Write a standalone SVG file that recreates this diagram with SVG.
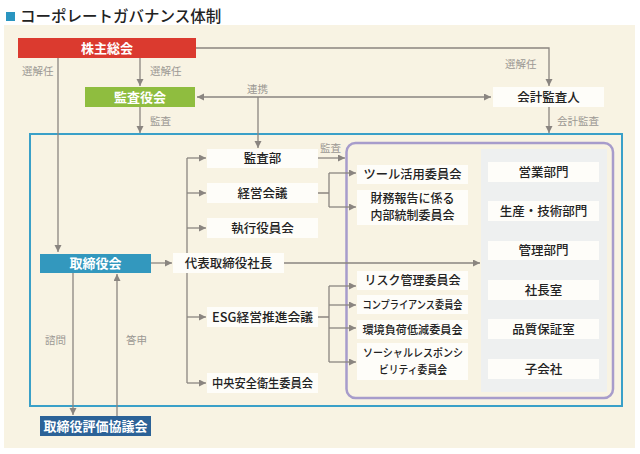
<svg xmlns="http://www.w3.org/2000/svg" width="640" height="454" viewBox="0 0 640 454">
<defs>
<marker id="ah" markerUnits="userSpaceOnUse" markerWidth="8" markerHeight="8" refX="7" refY="3.5" orient="auto-start-reverse"><path d="M0,0 L7,3.5 L0,7 z" fill="#8a8580"/></marker>
</defs>
<style>
text{font-family:"Noto Sans CJK JP","Noto Sans",sans-serif;}
.n{fill:#fefdf9;}
.t{font-size:12.5px;fill:#222;font-weight:500;text-anchor:middle;}
.tw{font-size:13px;fill:#fff;font-weight:700;text-anchor:middle;}
.lb{font-size:10.5px;fill:#9b9893;}
.c{fill:none;stroke:#8a8580;stroke-width:1.3;}
.a{marker-end:url(#ah);}
</style>
<rect x="0" y="0" width="640" height="454" fill="#ffffff"/>
<rect x="6" y="12" width="9" height="9" fill="#2a95c0"/>
<text x="20" y="22" style="font-size:15.5px;fill:#222;font-weight:500">コーポレートガバナンス体制</text>
<rect x="4" y="25" width="631" height="423" fill="#f8f3e3"/>
<rect x="30" y="134" width="592" height="272" fill="none" stroke="#3aa0c8" stroke-width="2"/>
<rect x="346.5" y="143" width="266.5" height="255" rx="9" fill="none" stroke="#a79ccb" stroke-width="2.5"/>
<rect x="481" y="149" width="126" height="243" fill="#eef0f0"/>

<g id="connectors">
<path class="c a" d="M196,48 H549 V86"/>
<path class="c a" d="M58,58 V252"/>
<path class="c a" d="M140,58 V86"/>
<path class="c a" d="M140,107 V133"/>
<path class="c a" d="M491,97 H197" style="marker-start:url(#ah)"/>
<path class="c a" d="M258,97 V148"/>
<path class="c a" d="M549,107 V133"/>
<path class="c a" d="M151,263 H172"/>
<path class="c" d="M187,158 V383"/>
<path class="c a" d="M187,158 H206"/>
<path class="c a" d="M187,193 H206"/>
<path class="c a" d="M187,228 H206"/>
<path class="c a" d="M187,317 H206"/>
<path class="c a" d="M187,383 H206"/>
<path class="c a" d="M318,158 H345"/>
<path class="c" d="M318,193 H329 M329,173 V207"/>
<path class="c a" d="M329,173 H356"/>
<path class="c a" d="M329,207 H356"/>
<path class="c a" d="M284,263 H480"/>
<path class="c" d="M318,317 H329 M329,286 V362"/>
<path class="c a" d="M329,286 H356"/>
<path class="c a" d="M329,305 H356"/>
<path class="c a" d="M329,328 H356"/>
<path class="c a" d="M329,362 H356"/>
<path class="c a" d="M73,273 V415"/>
<path class="c a" d="M117,416 V274"/>
<text class="lb" x="22" y="75">選解任</text>
<text class="lb" x="150" y="75">選解任</text>
<text class="lb" x="505" y="68">選解任</text>
<text class="lb" x="247" y="93">連携</text>
<text class="lb" x="150" y="125">監査</text>
<text class="lb" x="557" y="125">会計監査</text>
<text class="lb" x="320" y="152">監査</text>
<text class="lb" x="45" y="344">諮問</text>
<text class="lb" x="126" y="344">答申</text>
</g>

<g id="kabunushi"><rect x="18" y="38" width="178" height="20" fill="#db3a2f"/><text class="tw" x="107" y="52.5">株主総会</text></g>
<g id="kansayaku"><rect x="85" y="87" width="110" height="20" fill="#8fbd3f"/><text class="tw" x="140" y="101.5">監査役会</text></g>
<g id="kaikei"><rect x="493" y="87" width="111" height="20" class="n"/><text class="t" x="548.5" y="101.5">会計監査人</text></g>
<g id="torishimariyaku"><rect x="40" y="254" width="111" height="19" fill="#3398be"/><text class="tw" x="95.5" y="268">取締役会</text></g>
<g id="hyoka"><rect x="40" y="416" width="111" height="20" fill="#2c6297"/><text class="tw" x="95.5" y="430.5">取締役評価協議会</text></g>
<g id="shacho"><rect x="173" y="253" width="111" height="20" class="n"/><text class="t" x="228.5" y="267.5">代表取締役社長</text></g>
<g id="kansabu"><rect x="207" y="149" width="111" height="19" class="n"/><text class="t" x="262.5" y="163">監査部</text></g>
<g id="keiei"><rect x="207" y="183" width="111" height="20" class="n"/><text class="t" x="262.5" y="197.5">経営会議</text></g>
<g id="shikko"><rect x="207" y="218" width="111" height="20" class="n"/><text class="t" x="262.5" y="232.5">執行役員会</text></g>
<g id="esg"><rect x="207" y="307" width="111" height="20" class="n"/><text class="t" x="262.5" y="321.5" textLength="101" lengthAdjust="spacingAndGlyphs">ESG経営推進会議</text></g>
<g id="chuo"><rect x="207" y="373" width="111" height="20" class="n"/><text class="t" x="262.5" y="387.5" textLength="101" lengthAdjust="spacingAndGlyphs">中央安全衛生委員会</text></g>
<g id="tool"><rect x="357" y="165" width="111" height="19" class="n"/><text class="t" x="412.5" y="179" textLength="98" lengthAdjust="spacingAndGlyphs">ツール活用委員会</text></g>
<g id="zaimu"><rect x="357" y="190" width="111" height="35" class="n"/><text class="t" x="412.5" y="203" style="font-size:12px">財務報告に係る</text><text class="t" x="412.5" y="220" style="font-size:12px">内部統制委員会</text></g>
<g id="risk"><rect x="357" y="271" width="111" height="19" class="n"/><text class="t" x="412.5" y="285" textLength="96" lengthAdjust="spacingAndGlyphs">リスク管理委員会</text></g>
<g id="compliance"><rect x="357" y="295" width="111" height="19" class="n"/><text class="t" x="412.5" y="309" style="font-size:11px" textLength="100" lengthAdjust="spacingAndGlyphs">コンプライアンス委員会</text></g>
<g id="kankyo"><rect x="357" y="320" width="111" height="19" class="n"/><text class="t" x="412.5" y="334" style="font-size:11.5px" textLength="100" lengthAdjust="spacingAndGlyphs">環境負荷低減委員会</text></g>
<g id="social"><rect x="357" y="343" width="111" height="37" class="n"/><text class="t" x="413" y="357" style="font-size:11px" textLength="100" lengthAdjust="spacingAndGlyphs">ソーシャルレスポンシ</text><text class="t" x="413" y="373.5" style="font-size:11px" textLength="68" lengthAdjust="spacingAndGlyphs">ビリティ委員会</text></g>
<g id="eigyo"><rect x="488" y="162" width="111" height="20" class="n"/><text class="t" x="543.5" y="176.5">営業部門</text></g>
<g id="seisan"><rect x="488" y="201" width="111" height="20" class="n"/><text class="t" x="543.5" y="215.5">生産・技術部門</text></g>
<g id="kanri"><rect x="488" y="241" width="111" height="19" class="n"/><text class="t" x="543.5" y="255">管理部門</text></g>
<g id="shachoshitsu"><rect x="488" y="280" width="111" height="20" class="n"/><text class="t" x="543.5" y="294.5">社長室</text></g>
<g id="hinshitsu"><rect x="488" y="319" width="111" height="20" class="n"/><text class="t" x="543.5" y="333.5">品質保証室</text></g>
<g id="kogaisha"><rect x="488" y="359" width="111" height="20" class="n"/><text class="t" x="543.5" y="373.5">子会社</text></g>
</svg>
